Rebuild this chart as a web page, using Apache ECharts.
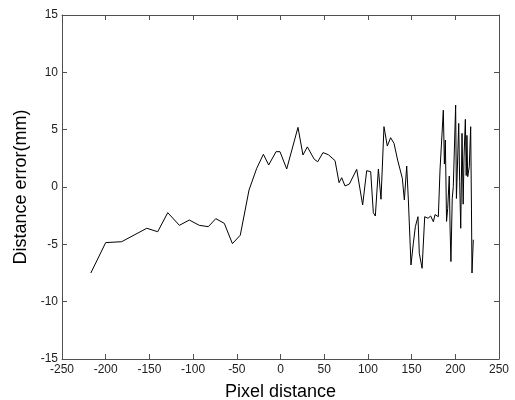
<!DOCTYPE html>
<html>
<head>
    <meta charset="utf-8" />
    <script src="https://cdn.jsdelivr.net/npm/echarts@6/dist/echarts.min.js"></script>
    <style>
        html, body { margin: 0; padding: 0; background: #fff; }
    </style>
</head>
<body>
    <div id="main" style="width:515px;height:400px;"></div>
    <script>
        // pixel distance (x) and distance error in mm (y)
        var pixelDist = [
            -217, -200, -181.7, -153, -140.5, -129, -115.7, -104.3, -93, -82.6,
            -74, -64.3, -55, -46, -36, -27.2, -19.6, -13.5, -5.1, -0.6,
            7.1, 20, 25.7, 30.7, 38.7, 42.6, 48.6, 54.7, 62.4, 67,
            70, 73.8, 78.8, 87.2, 94, 98.6, 103.2, 106.2, 108.5, 112,
            115, 118.4, 122.2, 126, 129.9, 134, 139.4, 141.7, 144.4, 146.3,
            149.3, 152, 154.3, 157.3, 158.8, 162, 165, 168.8, 171.8, 174.9,
            176.8, 180.6, 182.5, 186.3, 187.5, 188.6, 190, 191.3, 193.1, 194,
            195, 196.5, 197.7, 200.4, 201.3, 202.3, 203.9, 205, 206.2, 207.7,
            209, 210, 211.5, 212.5, 213.3, 214.2, 216, 217.6, 218.5, 219.1,
            220.6
        ];
        var distError = [
            -7.5, -4.85, -4.77, -3.6, -3.9, -2.24, -3.34, -2.88, -3.34, -3.46,
            -2.76, -3.17, -4.94, -4.2, -0.26, 1.63, 2.85, 1.92, 3.08, 3.08,
            1.57, 5.2, 2.79, 3.5, 2.41, 2.2, 3.0, 2.82, 2.3, 0.38,
            0.81, 0.09, 0.26, 1.54, -1.57, 1.42, 1.34, -2.24, -2.53, 1.57,
            -1.07, 5.26, 3.57, 4.3, 3.8, 2.35, 0.76, -1.13, 1.83, -1.13,
            -6.8, -4.9, -3.46, -2.59, -5.78, -7.09, -2.59, -2.73, -2.53, -3.03,
            -2.41, -2.59, 1.48, 6.7, 2.0, 4.1, -3.0, -1.86, 0.96, -3.5,
            -6.5, -1.0, 0.03, 7.15, -1.0, 1.48, 5.55, 0.5, -3.6, 4.68,
            -1.5, 2.64, 5.9, 1.0, 4.5, 0.9, 1.77, 5.26, -2.0, -7.5,
            -4.6
        ];

        var pts = pixelDist.map(function (x, i) { return [x, distError[i]]; });

        var axisColor = '#505050';
        var fontFam = 'Liberation Sans, Arial, sans-serif';
        var labelStyle = { color: '#202020', fontSize: 12, fontFamily: fontFam };
        var nameStyle = { color: '#000', fontSize: 18, fontFamily: fontFam };

        function boxAxis(pos, min, max, step) {
            return {
                type: 'value', position: pos, min: min, max: max, interval: step,
                axisLine: { onZero: false, lineStyle: { color: axisColor, width: 1 } },
                axisTick: { inside: true, length: 5, lineStyle: { color: axisColor } },
                axisLabel: { show: false },
                splitLine: { show: false }
            };
        }

        var myChart = echarts.init(document.getElementById('main'));
        myChart.setOption({
            animation: false,
            backgroundColor: '#fff',
            grid: { left: 62, right: 16, top: 15, bottom: 41, containLabel: false, outerBoundsMode: 'none' },
            xAxis: [
                {
                    type: 'value', position: 'bottom', min: -250, max: 250, interval: 50,
                    name: 'Pixel distance', nameLocation: 'middle', nameGap: 24, nameTextStyle: nameStyle,
                    axisLine: { onZero: false, lineStyle: { color: axisColor, width: 1 } },
                    axisTick: { inside: true, length: 5, lineStyle: { color: axisColor } },
                    axisLabel: Object.assign({ margin: 5 }, labelStyle),
                    splitLine: { show: false }
                },
                boxAxis('top', -250, 250, 50)
            ],
            yAxis: [
                {
                    type: 'value', position: 'left', min: -15, max: 15, interval: 5,
                    name: 'Distance error(mm)', nameLocation: 'middle', nameGap: 27, nameTextStyle: nameStyle,
                    axisLine: { onZero: false, lineStyle: { color: axisColor, width: 1 } },
                    axisTick: { inside: true, length: 5, lineStyle: { color: axisColor } },
                    axisLabel: Object.assign({ margin: 4 }, labelStyle),
                    splitLine: { show: false }
                },
                boxAxis('right', -15, 15, 5)
            ],
            series: [
                {
                    type: 'line',
                    data: pts,
                    symbol: 'none',
                    lineStyle: { color: '#000', width: 1 }
                }
            ]
        });
    </script>
</body>
</html>
